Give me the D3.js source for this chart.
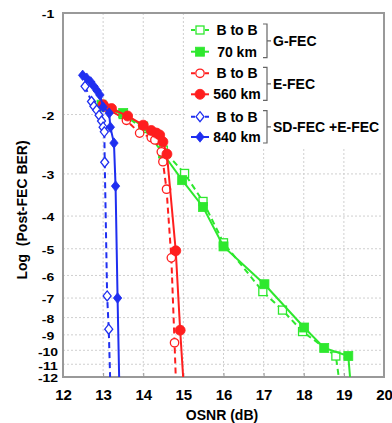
<!DOCTYPE html>
<html><head><meta charset="utf-8">
<script src="https://cdn.jsdelivr.net/npm/d3@7"></script>
<style>
html,body{margin:0;padding:0;background:#fff;}
svg{display:block;font-family:"Liberation Sans",Arial,sans-serif;font-weight:bold;}
</style></head>
<body><svg id="c" width="392" height="423"></svg>
<script>
// ---- data (x: OSNR dB, y: log10 post-FEC BER) ----
const xTicks = [12,13,14,15,16,17,18,19,20];
const yTicks = [-1,-2,-3,-4,-5,-6,-7,-8,-9,-10,-11,-12];

const gBtoBx = [13.0, 13.5, 14.0, 14.5, 15.03, 15.49, 16.0, 16.98, 17.47, 17.97, 18.8, 18.95];
const gBtoBy = [-1.9, -2.0, -2.2, -2.55, -2.99, -3.62, -4.8, -6.7, -7.6, -8.8, -10.4, -14];
const g70x   = [12.96, 13.5, 14.0, 14.49, 14.97, 15.49, 16.0, 17.02, 18.01, 18.51, 19.11, 19.2];
const g70y   = [-1.87, -1.98, -2.17, -2.61, -3.13, -3.76, -4.92, -6.37, -8.56, -9.84, -10.4, -14];

const rBtoBx = [13.05, 13.58, 13.91, 14.2, 14.29, 14.45, 14.49, 14.58, 14.7, 14.78, 14.83];
const rBtoBy = [-1.9, -2.08, -2.27, -2.34, -2.38, -2.58, -2.76, -3.33, -5.32, -9.5, -14];
const r560x  = [13.0, 13.21, 13.61, 14.0, 14.2, 14.33, 14.41, 14.49, 14.59, 14.81, 14.92, 15.03];
const r560y  = [-1.87, -1.92, -2.02, -2.15, -2.23, -2.27, -2.3, -2.41, -2.62, -5.07, -8.72, -14];

const bBtoBx = [12.55, 12.71, 12.77, 12.84, 12.9, 12.96, 13.0, 13.03, 13.04, 13.1, 13.14, 13.19];
const bBtoBy = [-1.65, -1.83, -1.89, -1.94, -2.01, -2.09, -2.18, -2.25, -2.77, -6.9, -8.66, -14];
const b840x  = [12.49, 12.59, 12.69, 12.77, 12.85, 12.92, 13.0, 13.15, 13.18, 13.27, 13.31, 13.36, 13.41];
const b840y  = [-1.53, -1.56, -1.6, -1.65, -1.7, -1.75, -1.9, -1.98, -2.18, -2.43, -3.26, -7.0, -14];

const legendLabels = ["B to B","70 km","B to B","560 km","B to B","840 km"];
const groupLabels = ["G-FEC","E-FEC","SD-FEC +E-FEC"];

const GREEN = "#2ee82e", RED = "#ff1e1e", BLUE = "#1f2ff0";

// ---- layout ----
const svg = d3.select("#c");
const L = 63, R = 384, T = 13, B = 377;
const x = d3.scaleLinear().domain([12,20]).range([L,R]);
const y = d3.scaleLog().domain([1,12]).range([T,B]);
const Y = v => y(-v);

svg.append("defs").append("clipPath").attr("id","clip")
  .append("rect").attr("x",L).attr("y",T).attr("width",R-L).attr("height",B-T);

// grid
const grid = svg.append("g").attr("stroke","#cfcfcf").attr("stroke-width",1).attr("stroke-dasharray","2,2");
grid.selectAll(".gx").data(xTicks.slice(1,-1)).join("line")
  .attr("x1",d=>x(d)).attr("x2",d=>x(d)).attr("y1",T).attr("y2",B);
grid.selectAll(".gy").data(yTicks.slice(1,-1)).join("line")
  .attr("x1",L).attr("x2",R).attr("y1",d=>Y(d)).attr("y2",d=>Y(d));

// axes ticks (inward)
const xAxis = d3.axisBottom(x).tickValues(xTicks).tickSize(-4).tickPadding(12).tickFormat(d3.format("d"));
const gx = svg.append("g").attr("transform",`translate(0,${B})`).call(xAxis);
gx.select(".domain").remove();
gx.selectAll(".tick line").attr("stroke","#999");
gx.selectAll("text").attr("fill","#000").attr("font-size","15px").attr("font-weight","bold")
  .attr("font-family","Liberation Sans, Arial, sans-serif");

const yAxis = d3.axisLeft(y).tickValues(yTicks.map(v=>-v)).tickSize(0).tickPadding(0).tickFormat(d=>"-"+d);
const gy = svg.append("g").attr("transform",`translate(${L},0)`).call(yAxis);
gy.select(".domain").remove();
gy.selectAll("text").attr("fill","#000").attr("font-size","14px").attr("font-weight","bold")
  .attr("font-family","Liberation Sans, Arial, sans-serif")
  .attr("text-anchor","middle").attr("x",-15).attr("dy",null).attr("y",0)
  .attr("transform","scale(1,0.74) translate(0,6.5)");

// frame
svg.append("rect").attr("x",L).attr("y",T).attr("width",R-L).attr("height",B-T)
  .attr("fill","none").attr("stroke","#999").attr("stroke-width",2);

// axis titles
svg.append("text").attr("x",222).attr("y",420).attr("text-anchor","middle")
  .attr("font-size","14px").text("OSNR (dB)");
svg.append("text").attr("transform","translate(27,210) rotate(-90)").attr("text-anchor","middle")
  .attr("font-size","14px").attr("xml:space","preserve").text("Log  (Post-FEC BER)");

// ---- series ----
const series = [
  {xs:gBtoBx, ys:gBtoBy, color:GREEN, dash:"6,4", shape:"square", open:true},
  {xs:g70x,   ys:g70y,   color:GREEN, dash:null,  shape:"square", open:false},
  {xs:rBtoBx, ys:rBtoBy, color:RED,   dash:"6,4", shape:"circle", open:true},
  {xs:r560x,  ys:r560y,  color:RED,   dash:null,  shape:"circle", open:false},
  {xs:bBtoBx, ys:bBtoBy, color:BLUE,  dash:"6,4", shape:"diamond", open:true},
  {xs:b840x,  ys:b840y,  color:BLUE,  dash:null,  shape:"diamond", open:false},
];

function marker(g, shape, open, color, cx, cy){
  let el;
  if(shape==="square"){
    const s = open?8:9;
    el = g.append("rect").attr("x",cx-s/2).attr("y",cy-s/2).attr("width",s).attr("height",s);
  } else if(shape==="circle"){
    el = g.append("circle").attr("cx",cx).attr("cy",cy).attr("r",open?4.2:5);
  } else {
    const w = open?4:4.2, h = open?5:5.2;
    el = g.append("path").attr("d",`M${cx},${cy-h}L${cx+w},${cy}L${cx},${cy+h}L${cx-w},${cy}Z`);
  }
  if(open) el.attr("fill","#fff").attr("stroke",color).attr("stroke-width",1.3);
  else el.attr("fill",color).attr("stroke",color).attr("stroke-width",0.8);
}

const plot = svg.append("g").attr("clip-path","url(#clip)");
const line = d3.line().x(d=>x(d[0])).y(d=>Y(d[1]));
series.forEach(s=>{
  const pts = s.xs.map((v,i)=>[v,s.ys[i]]);
  const g = plot.append("g");
  g.append("path").attr("d",line(pts)).attr("fill","none").attr("stroke",s.color)
    .attr("stroke-width",2).attr("stroke-dasharray",s.dash);
  pts.forEach(p=>marker(g,s.shape,s.open,s.color,x(p[0]),Y(p[1])));
});

// ---- legend ----
const lg = svg.append("g");
lg.append("rect").attr("x",187).attr("y",T+1).attr("width",R-188).attr("height",135).attr("fill","#fff");
const ly = [30,51.7,73.3,94.3,116.7,137];
series.forEach((s,i)=>{
  lg.append("line").attr("x1",191).attr("x2",209).attr("y1",ly[i]).attr("y2",ly[i])
    .attr("stroke",s.color).attr("stroke-width",2).attr("stroke-dasharray",s.dash?"4,3":null);
  marker(lg,s.shape,s.open,s.color,200,ly[i]);
  lg.append("text").attr("x",237).attr("y",ly[i]+5).attr("text-anchor","middle")
    .attr("font-size","14px").text(legendLabels[i]);
});
groupLabels.forEach((t,k)=>{
  const y1 = ly[2*k]-6, y2 = ly[2*k+1]+6, ym = (y1+y2)/2;
  lg.append("path").attr("d",`M263,${y1}H267V${y2}H263M267,${ym}H271`)
    .attr("fill","none").attr("stroke","#666").attr("stroke-width",1.2);
  lg.append("text").attr("x",273).attr("y",ym+5).attr("font-size","14px").text(t);
});
</script></body></html>
